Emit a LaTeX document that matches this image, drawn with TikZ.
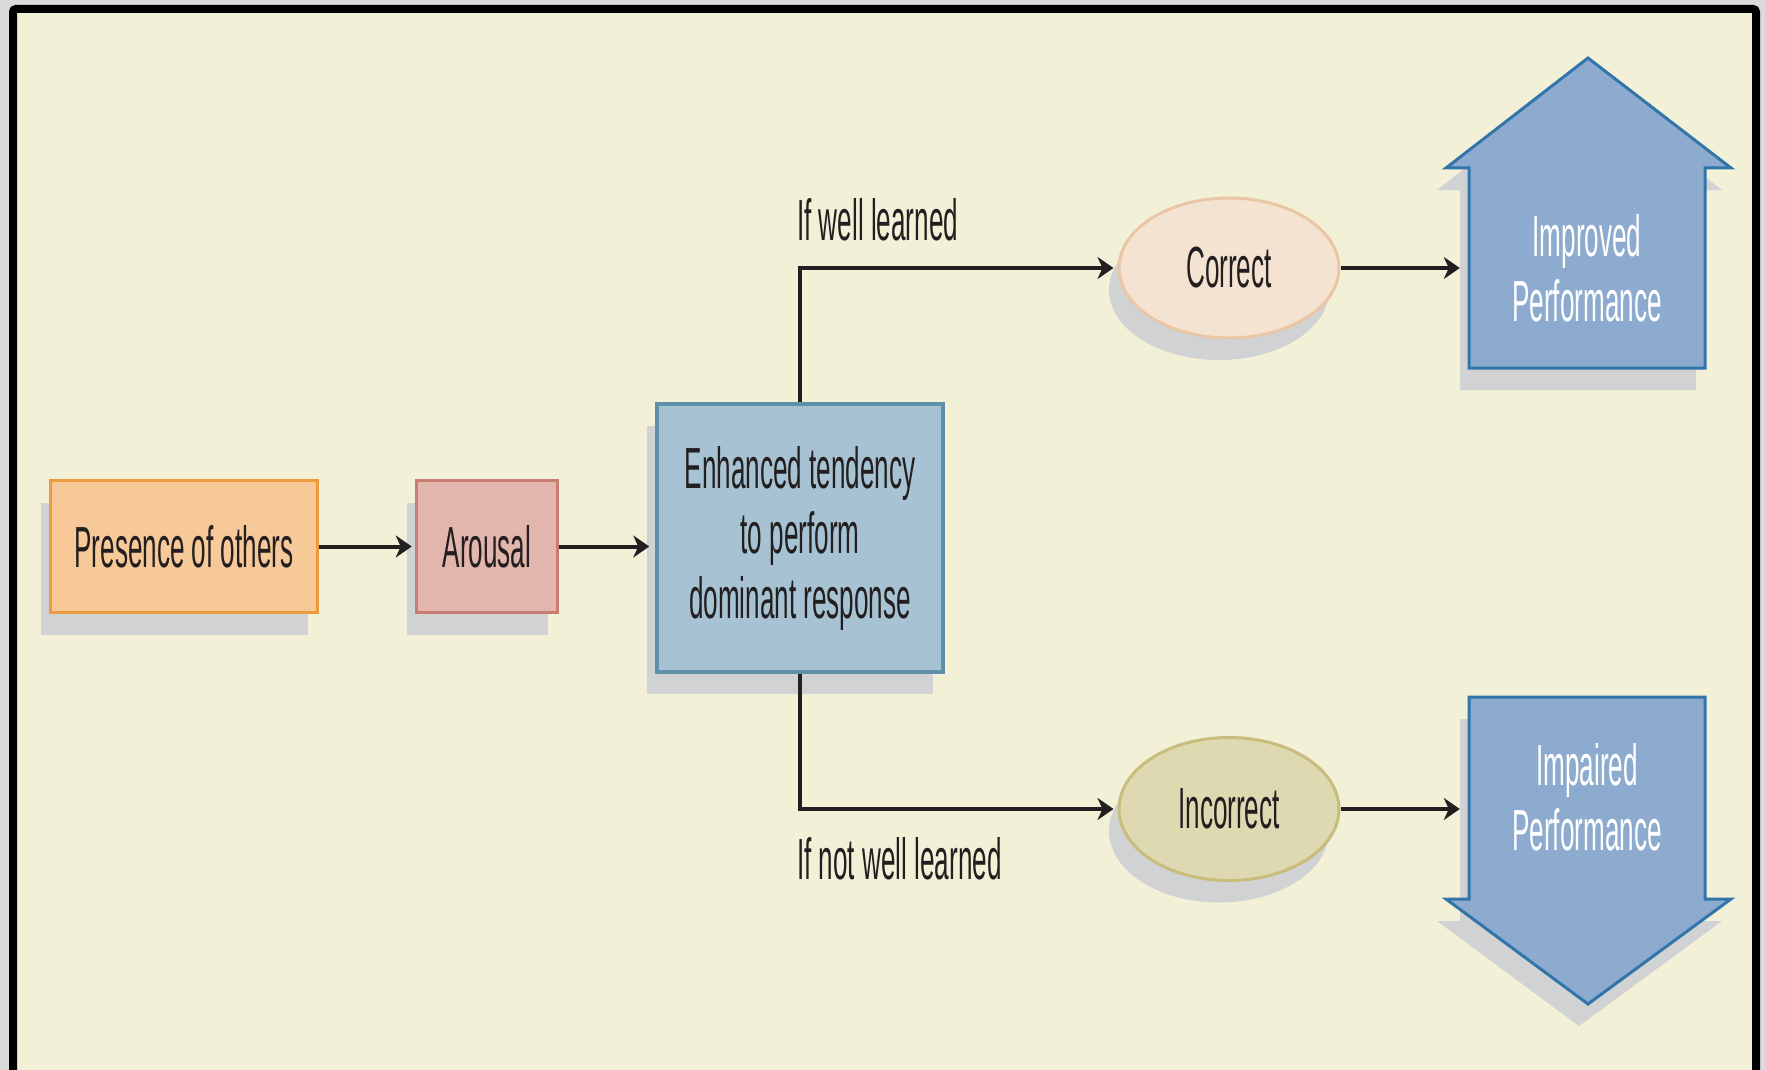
\documentclass[tikz,border=0pt]{standalone}
\usepackage{fontspec}
\newfontfamily\cond[FakeStretch=0.45]{Liberation Sans}
\usetikzlibrary{shapes.geometric,shadows,arrows.meta}

\definecolor{outergray}{HTML}{DADADA}
\definecolor{cream}{HTML}{F2F1D8}
\definecolor{shadowgray}{HTML}{D1D2D3}
\definecolor{inktext}{HTML}{231F20}
\definecolor{presfill}{HTML}{F7C998}
\definecolor{presline}{HTML}{EE9A3E}
\definecolor{arofill}{HTML}{E2B6AC}
\definecolor{aroline}{HTML}{C87C72}
\definecolor{enhfill}{HTML}{A7C3D3}
\definecolor{enhline}{HTML}{5F90A9}
\definecolor{corfill}{HTML}{F3E3D0}
\definecolor{corline}{HTML}{E9C7A6}
\definecolor{incfill}{HTML}{DFD9B2}
\definecolor{incline}{HTML}{C8BD7C}
\definecolor{bigfill}{HTML}{8DABCF}
\definecolor{bigline}{HTML}{3275A9}

\begin{document}
\begin{tikzpicture}[x=1pt,y=-1pt,
  every node/.style={font=\cond\fontsize{58}{65}\selectfont, text=inktext},
  shade/.style={drop shadow={shadow xshift=-10pt, shadow yshift=-22pt, fill=shadowgray, opacity=1}},
  box/.style={rectangle, line width=3.5pt, inner sep=0pt, align=center, shade},
  oval/.style={ellipse, line width=3pt, inner sep=0pt, minimum width=220pt, shade},
  bigarrow/.style={fill=bigfill, draw=bigline, line width=3pt, line join=miter},
  bigshadow/.style={fill=shadowgray, xshift=-9pt, yshift=-22pt},
  conn/.style={draw=inktext, line width=4pt, -{Stealth[length=16pt,width=22pt,inset=5pt]}},
  bigtext/.style={text=white, align=center, inner sep=0pt}]

\useasboundingbox (0,0) rectangle (1765,1070);
\fill[outergray] (0,0) rectangle (1765,1070);
\draw[line width=8pt, fill=cream, rounded corners=3pt] (13,9) rectangle (1756,1074);

% up and down block arrows, shadows first
\fill[bigshadow] (1469,368) -- (1469,168) -- (1446,168) -- (1588,58) -- (1731,168) -- (1705,168) -- (1705,368) -- cycle;
\fill[bigshadow] (1469,697) -- (1705,697) -- (1705,899) -- (1731,899) -- (1588,1004) -- (1446,899) -- (1469,899) -- cycle;
\path[bigarrow] (1469,368) -- (1469,168) -- (1446,168) -- (1588,58) -- (1731,168) -- (1705,168) -- (1705,368) -- cycle;
\path[bigarrow] (1469,697) -- (1705,697) -- (1705,899) -- (1731,899) -- (1588,1004) -- (1446,899) -- (1469,899) -- cycle;

% boxes
\node[box, fill=presfill, draw=presline, minimum width=267pt, minimum height=132pt] (pres) at (184,546.5) {Presence of others};
\node[box, fill=arofill, draw=aroline, minimum width=141pt, minimum height=132pt] (arousal) at (487,546.5) {Arousal};
\node[box, fill=enhfill, draw=enhline, minimum width=286pt, minimum height=268pt] (enh) at (800,538) {Enhanced tendency\\to perform\\dominant response};

% outcomes
\node[oval, fill=corfill, draw=corline, minimum height=140pt] (correct) at (1229,268) {Correct};
\node[oval, fill=incfill, draw=incline, minimum height=143pt] (incorrect) at (1229,809) {Incorrect};

% text on the block arrows
\node[bigtext, minimum width=236pt, minimum height=200pt] (improved) at (1587,268) {Improved\\Performance};
\node[bigtext, minimum width=236pt, minimum height=202pt] (impaired) at (1587,797) {Impaired\\Performance};

% branch labels
\node[anchor=west, inner sep=0pt] (lblwell) at (797,220) {If well learned};
\node[anchor=west, inner sep=0pt] (lblnot) at (797,859) {If not well learned};

% connectors
\draw[conn, shorten >=3pt] (pres.east) -- (arousal.west);
\draw[conn, shorten >=6pt] (arousal.east) -- (arousal.east -| enh.west);
\draw[conn, shorten >=4pt] (enh.north) |- (correct.west);
\draw[conn, shorten >=4pt] (enh.south) |- (incorrect.west);
\draw[conn, shorten >=9pt] (correct.east) -- (correct.east -| improved.west);
\draw[conn, shorten >=9pt] (incorrect.east) -- (incorrect.east -| impaired.west);
\end{tikzpicture}
\end{document}
